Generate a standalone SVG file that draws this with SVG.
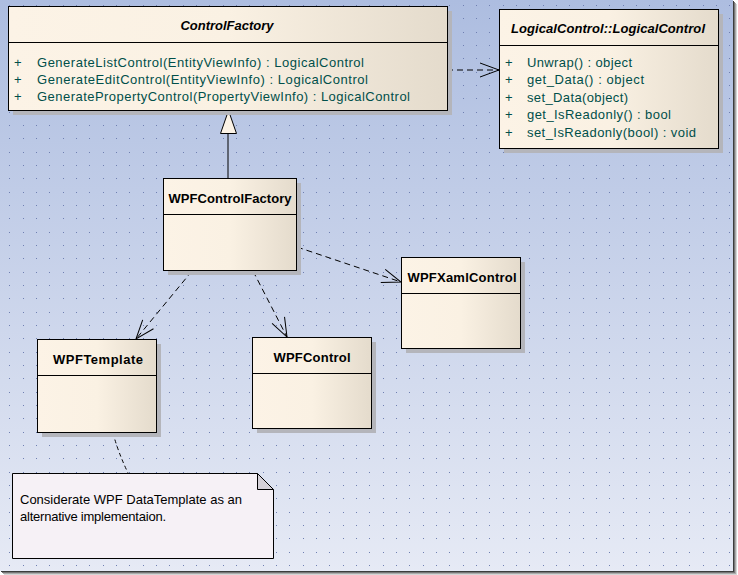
<svg xmlns="http://www.w3.org/2000/svg" width="738" height="575" viewBox="0 0 738 575">
<defs>
<linearGradient id="bg" x1="0" y1="0" x2="0" y2="572" gradientUnits="userSpaceOnUse">
<stop offset="0" stop-color="#adbde0"/>
<stop offset="1" stop-color="#e6eaf5"/>
</linearGradient>
<linearGradient id="boxfill" x1="0" y1="0" x2="1" y2="0">
<stop offset="0" stop-color="#fcf3e6"/>
<stop offset="0.5" stop-color="#faf1e3"/>
<stop offset="1" stop-color="#e4dbcc"/>
</linearGradient>
<pattern id="dots" x="9" y="5" width="40" height="40" patternUnits="userSpaceOnUse">
<rect x="0" y="0" width="1" height="1" fill="#6f7fb2"/>
<rect x="14" y="0" width="1" height="1" fill="#6f7fb2"/>
<rect x="27" y="0" width="1" height="1" fill="#6f7fb2"/>
<rect x="0" y="13" width="1" height="1" fill="#6f7fb2"/>
<rect x="14" y="13" width="1" height="1" fill="#6f7fb2"/>
<rect x="27" y="13" width="1" height="1" fill="#6f7fb2"/>
<rect x="0" y="27" width="1" height="1" fill="#6f7fb2"/>
<rect x="14" y="27" width="1" height="1" fill="#6f7fb2"/>
<rect x="27" y="27" width="1" height="1" fill="#6f7fb2"/>
</pattern>
<marker id="open" markerUnits="userSpaceOnUse" markerWidth="22" markerHeight="20" refX="20" refY="10" orient="auto" overflow="visible">
<path d="M1,3 L20,10 L1,17" fill="none" stroke="#000" stroke-width="1" stroke-dasharray="none"/>
</marker>
</defs>
<style>
.box{fill:url(#boxfill);stroke:#000;stroke-width:1}
.shadow{fill:#b4b5bb}
.div{stroke:#000;stroke-width:1}
.title{font-family:"Liberation Sans",Arial,sans-serif;font-size:13px;font-weight:bold;fill:#000;text-anchor:middle}
.ititle{font-style:italic}
.mem{font-family:"Liberation Sans",Arial,sans-serif;font-size:13px;fill:#004f4a}
.note{font-family:"Liberation Sans",Arial,sans-serif;font-size:13px;fill:#000}
.dep{fill:none;stroke:#000;stroke-width:1;stroke-dasharray:6,4;marker-end:url(#open)}
</style>
<rect x="0" y="0" width="738" height="575" fill="#ffffff"/>
<rect x="0" y="0" width="733" height="571" fill="url(#bg)"/>
<rect x="0" y="0" width="733" height="571" fill="url(#dots)"/>
<!-- frame shadow -->
<rect x="733" y="1" width="1" height="571" fill="#3c3c3c"/>
<rect x="734" y="2" width="1" height="571" fill="#777"/>
<rect x="735" y="3" width="1" height="571" fill="#aaa"/>
<rect x="736" y="4" width="1" height="571" fill="#d6d6d6"/>
<rect x="1" y="571" width="733" height="1" fill="#3c3c3c"/>
<rect x="2" y="572" width="733" height="1" fill="#777"/>
<rect x="3" y="573" width="733" height="1" fill="#aaa"/>
<rect x="4" y="574" width="733" height="1" fill="#d6d6d6"/>

<g id="connectors">
<path class="dep" d="M447,70 L499,70"/>
<path class="dep" d="M297,247 L401,282"/>
<path class="dep" d="M192,271 L136,339"/>
<path class="dep" d="M253,271 L287,337"/>
<path d="M228,178 L228,133" fill="none" stroke="#000" stroke-width="1"/>
<path d="M228.5,110.5 L220.5,133.5 L236.5,133.5 Z" fill="#fcf3e6" stroke="#000" stroke-width="1"/>
<path d="M113,433 Q118,452 128,473" fill="none" stroke="#000" stroke-width="1" stroke-dasharray="4,3"/>
</g>

<g id="ControlFactory">
<rect class="shadow" x="13" y="11" width="439" height="104"/>
<rect class="box" x="8.5" y="6.5" width="439" height="104"/>
<line class="div" x1="8.5" y1="42.5" x2="447.5" y2="42.5"/>
<text class="title ititle" x="227" y="30">ControlFactory</text>
<text class="mem" x="14" y="66.5">+</text>
<text class="mem" x="37" y="66.5" textLength="327" lengthAdjust="spacing">GenerateListControl(EntityViewInfo) : LogicalControl</text>
<text class="mem" x="14" y="83.5">+</text>
<text class="mem" x="37" y="83.5" textLength="331" lengthAdjust="spacing">GenerateEditControl(EntityViewInfo) : LogicalControl</text>
<text class="mem" x="14" y="100.5">+</text>
<text class="mem" x="37" y="100.5" textLength="373" lengthAdjust="spacing">GeneratePropertyControl(PropertyViewInfo) : LogicalControl</text>
</g>

<g id="LogicalControl">
<rect class="shadow" x="504" y="14" width="219" height="139"/>
<rect class="box" x="499.5" y="9.5" width="219" height="139"/>
<line class="div" x1="499.5" y1="45.5" x2="718.5" y2="45.5"/>
<text class="title ititle" x="608" y="33" textLength="194" lengthAdjust="spacing">LogicalControl::LogicalControl</text>
<text class="mem" x="505" y="66.5">+</text>
<text class="mem" x="527" y="66.5" textLength="105" lengthAdjust="spacing">Unwrap() : object</text>
<text class="mem" x="505" y="84">+</text>
<text class="mem" x="527" y="84" textLength="117" lengthAdjust="spacing">get_Data() : object</text>
<text class="mem" x="505" y="101.5">+</text>
<text class="mem" x="527" y="101.5" textLength="101" lengthAdjust="spacing">set_Data(object)</text>
<text class="mem" x="505" y="119">+</text>
<text class="mem" x="527" y="119" textLength="144" lengthAdjust="spacing">get_IsReadonly() : bool</text>
<text class="mem" x="505" y="136.5">+</text>
<text class="mem" x="527" y="136.5" textLength="169" lengthAdjust="spacing">set_IsReadonly(bool) : void</text>
</g>

<g id="WPFControlFactory">
<rect class="shadow" x="168" y="183" width="133" height="92"/>
<rect class="box" x="163.5" y="178.5" width="133" height="92"/>
<line class="div" x1="163.5" y1="214.5" x2="296.5" y2="214.5"/>
<text class="title" x="230" y="203" textLength="123" lengthAdjust="spacing">WPFControlFactory</text>
</g>

<g id="WPFXamlControl">
<rect class="shadow" x="406" y="262" width="119" height="91"/>
<rect class="box" x="401.5" y="257.5" width="119" height="91"/>
<line class="div" x1="401.5" y1="293.5" x2="520.5" y2="293.5"/>
<text class="title" x="462" y="282" textLength="109" lengthAdjust="spacing">WPFXamlControl</text>
</g>

<g id="WPFTemplate">
<rect class="shadow" x="42" y="344" width="119" height="93"/>
<rect class="box" x="37.5" y="339.5" width="119" height="93"/>
<line class="div" x1="37.5" y1="375.5" x2="156.5" y2="375.5"/>
<text class="title" x="98" y="364" textLength="90" lengthAdjust="spacing">WPFTemplate</text>
</g>

<g id="WPFControl">
<rect class="shadow" x="257" y="342" width="119" height="91"/>
<rect class="box" x="252.5" y="337.5" width="119" height="91"/>
<line class="div" x1="252.5" y1="373.5" x2="371.5" y2="373.5"/>
<text class="title" x="312" y="362" textLength="77" lengthAdjust="spacing">WPFControl</text>
</g>

<g id="Note">
<path d="M12.5,473.5 L257.5,473.5 L273.5,489.5 L273.5,558.5 L12.5,558.5 Z" fill="#f6f1f6" stroke="#000" stroke-width="1"/>
<path d="M257.5,473.5 L257.5,489.5 L273.5,489.5 Z" fill="#d5d1d8" stroke="#000" stroke-width="1"/>
<text class="note" x="20" y="504" textLength="222" lengthAdjust="spacing">Considerate WPF DataTemplate as an</text>
<text class="note" x="20" y="520.5" textLength="146" lengthAdjust="spacing">alternative implementaion.</text>
</g>
</svg>
